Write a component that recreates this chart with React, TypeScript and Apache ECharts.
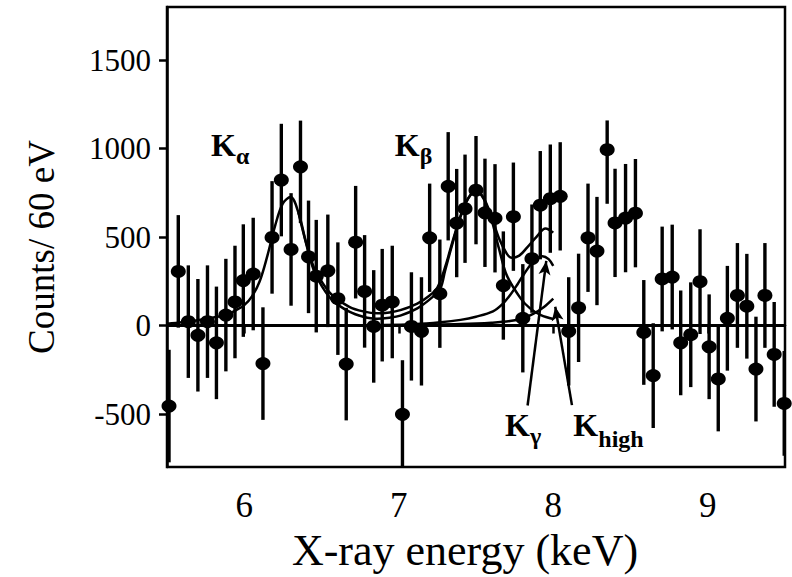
import React, { useEffect, useRef } from "react";
import * as echarts from "echarts";

// Measured spectrum: bin centre energies (keV) and background-subtracted counts per 60 eV bin
const energy = [
  5.513, 5.573, 5.638, 5.7, 5.762, 5.82, 5.881, 5.94, 5.994, 6.058,
  6.121, 6.18, 6.24, 6.303, 6.364, 6.416, 6.466, 6.541, 6.606, 6.66,
  6.721, 6.779, 6.838, 6.893, 6.958, 7.024, 7.082, 7.147, 7.2, 7.266,
  7.32, 7.375, 7.429, 7.5, 7.558, 7.623, 7.677, 7.742, 7.803, 7.862,
  7.916, 7.981, 8.045, 8.1, 8.164, 8.225, 8.283, 8.349, 8.4, 8.468,
  8.532, 8.586, 8.647, 8.705, 8.77, 8.825, 8.89, 8.95, 9.009, 9.068,
  9.127, 9.192, 9.253, 9.312, 9.37, 9.43, 9.495,
];
const counts = [
  -455, 306, 22, -55, 22, -98, 59, 133, 254, 291,
  -215, 498, 822, 430, 897, 388, 279, 309, 152, -218,
  471, 193, -5, 115, 133, -502, -5, -33, 496, 180,
  787, 579, 660, 765, 637, 606, 226, 615, 41, 378,
  680, 717, 730, -33, 100, 496, 421, 994, 580, 607,
  635, -39, -283, 263, 274, -98, -52, 248, -120, -302,
  41, 170, 109, -246, 170, -163, -440,
];
// Upper and lower error bar lengths
const errUp = [
  318, 318, 318, 318, 318, 318, 318, 318, 318, 318,
  318, 318, 318, 318, 261, 318, 318, 318, 318, 318,
  318, 318, 318, 318, 318, 306, 306, 306, 306, 306,
  306, 306, 306, 306, 306, 306, 306, 306, 306, 306,
  306, 306, 306, 306, 306, 306, 306, 165, 306, 306,
  306, 296, 296, 296, 296, 296, 296, 296, 296, 296,
  296, 296, 296, 296, 296, 296, 296,
];
const errDown = [
  318, 318, 318, 318, 318, 318, 318, 318, 318, 318,
  318, 318, 318, 318, 318, 318, 318, 318, 318, 318,
  318, 318, 318, 318, 318, 306, 306, 306, 306, 306,
  306, 306, 306, 306, 306, 306, 306, 306, 306, 306,
  306, 306, 306, 306, 306, 306, 306, 306, 306, 306,
  306, 296, 296, 296, 296, 296, 296, 296, 296, 296,
  296, 296, 296, 296, 296, 296, 296,
];

// Fit curves: total fit, Kα+Kβ lines, Kγ line and high-energy line
const fitTotal = [
  [5.5, 10], [5.6, 18], [5.7, 30], [5.8, 45], [5.88, 60], [5.95, 88], [6.0, 115],
  [6.05, 165], [6.1, 250], [6.15, 395], [6.2, 565], [6.25, 690], [6.3, 726],
  [6.35, 640], [6.4, 470], [6.45, 330], [6.5, 250], [6.57, 171], [6.68, 106],
  [6.77, 80], [6.86, 69], [6.94, 74], [7.01, 87], [7.12, 124], [7.2, 170],
  [7.25, 215], [7.3, 330], [7.35, 480], [7.4, 620], [7.45, 720], [7.5, 763],
  [7.55, 720], [7.6, 615], [7.65, 490], [7.7, 405], [7.73, 383], [7.78, 395],
  [7.83, 440], [7.89, 500], [7.95, 548], [8.0, 525],
];
const fitAlphaBeta = [
  [6.35, 640], [6.4, 465], [6.45, 312], [6.5, 225], [6.57, 143], [6.68, 78],
  [6.77, 50], [6.86, 38], [6.94, 44], [7.01, 56], [7.12, 97], [7.22, 162],
  [7.27, 210], [7.3, 310], [7.35, 470], [7.4, 615], [7.45, 718], [7.5, 762],
  [7.55, 715], [7.6, 600], [7.65, 430], [7.7, 282], [7.79, 152], [7.85, 97],
  [7.92, 59], [8.0, 37],
];
const fitGamma = [
  [6.9, 3], [7.1, 7], [7.27, 18], [7.4, 32], [7.5, 50], [7.61, 80], [7.67, 120],
  [7.72, 171], [7.77, 235], [7.81, 290], [7.87, 360], [7.93, 392], [7.97, 375],
  [8.0, 337],
];
const fitHigh = [
  [7.0, 2], [7.2, 4], [7.4, 8], [7.6, 16], [7.72, 25], [7.8, 40], [7.87, 66],
  [7.94, 105], [8.0, 152],
];

const xTicks = [6, 7, 8, 9];
const yTicks = [-500, 0, 500, 1000, 1500];

// Line labels (main letter + subscript) anchored in data space
const lineLabels = [
  { main: "K", sub: "α", at: [5.784, 959] },
  { main: "K", sub: "β", at: [6.974, 959] },
  { main: "K", sub: "γ", at: [7.688, -625] },
  { main: "K", sub: "high", at: [8.13, -625] },
];
// Arrows from the Kγ / Khigh labels to their curves
const arrows = [
  { from: [7.834, -452], to: [7.955, 365] },
  { from: [8.121, -450], to: [8.013, 106] },
];

const SERIF = '"Liberation Serif", "Times New Roman", serif';

export default function App() {
  const ref = useRef<HTMLDivElement>(null);

  useEffect(() => {
    if (!ref.current) return;
    const chart = echarts.init(ref.current, undefined, { renderer: "svg" });

    const points = energy.map((e, i) => [e, counts[i]]);
    const bars = energy.map((e, i) => [e, counts[i], errDown[i], errUp[i]]);
    const curveStyle = { color: "#000", width: 2.5 };

    const option: any = {
      animation: false,
      backgroundColor: "#fff",
      grid: {
        left: 167,
        right: 7,
        top: 7,
        bottom: 102,
        show: true,
        borderColor: "#000",
        borderWidth: 2.5,
        backgroundColor: "transparent",
      },
      xAxis: {
        type: "value",
        min: 5.5,
        max: 9.5,
        name: "X-ray energy (keV)",
        nameLocation: "middle",
        nameGap: 60,
        nameTextStyle: {
          fontFamily: SERIF,
          fontSize: 44,
          color: "#000",
          padding: [0, 22, 0, 0],
        },
        axisLine: { show: true, lineStyle: { color: "#000", width: 2.5 } },
        axisTick: {
          show: true,
          inside: false,
          length: 8,
          customValues: xTicks,
          lineStyle: { color: "#000", width: 2.5 },
        },
        axisLabel: {
          customValues: xTicks,
          fontFamily: SERIF,
          fontSize: 35,
          color: "#000",
          margin: 21,
        },
        splitLine: { show: false },
      },
      yAxis: {
        type: "value",
        min: -800,
        max: 1800,
        axisLine: { show: true, lineStyle: { color: "#000", width: 2.5 } },
        axisTick: {
          show: true,
          inside: false,
          length: 8,
          customValues: yTicks,
          lineStyle: { color: "#000", width: 2.5 },
        },
        axisLabel: {
          customValues: yTicks,
          formatter: (v: number) => String(v),
          fontFamily: SERIF,
          fontSize: 31,
          color: "#000",
          margin: 16,
        },
        splitLine: { show: false },
      },
      series: [
        {
          type: "line",
          data: fitTotal,
          smooth: 0.35,
          showSymbol: false,
          lineStyle: curveStyle,
          z: 3,
          markLine: {
            silent: true,
            symbol: "none",
            label: { show: false },
            lineStyle: { color: "#000", width: 2.8, type: "solid" },
            data: [{ yAxis: 0 }],
          },
        },
        {
          type: "line",
          data: fitAlphaBeta,
          smooth: 0.35,
          showSymbol: false,
          lineStyle: curveStyle,
          z: 3,
        },
        {
          type: "line",
          data: fitGamma,
          smooth: 0.35,
          showSymbol: false,
          lineStyle: curveStyle,
          z: 3,
        },
        {
          type: "line",
          data: fitHigh,
          smooth: 0.35,
          showSymbol: false,
          lineStyle: curveStyle,
          z: 3,
          markLine: {
            silent: true,
            symbol: ["none", "arrow"],
            symbolSize: [9, 14],
            label: { show: false },
            lineStyle: { color: "#000", width: 2.5, type: "solid" },
            data: arrows.map((a) => [{ coord: a.from }, { coord: a.to }]),
          },
        },
        {
          type: "custom",
          data: bars,
          clip: true,
          z: 4,
          renderItem: (params: any, api: any) => {
            const x = api.value(0);
            const y = api.value(1);
            const lo = api.coord([x, y - api.value(2)]);
            const hi = api.coord([x, y + api.value(3)]);
            return {
              type: "line",
              shape: { x1: lo[0], y1: lo[1], x2: hi[0], y2: hi[1] },
              style: { stroke: "#000", lineWidth: 3.4 },
            };
          },
        },
        {
          type: "scatter",
          data: points,
          symbol: "circle",
          symbolSize: [15, 13],
          itemStyle: { color: "#000", opacity: 1 },
          z: 5,
        },
      ],
    };

    chart.setOption(option);

    // Y axis title and the line labels, placed once the coordinate system is known
    const graphics: any[] = [
      {
        type: "text",
        x: 41,
        y: 247,
        rotation: Math.PI / 2,
        style: {
          text: "Counts/ 60 eV",
          font: `37px ${SERIF}`,
          fill: "#000",
          align: "center",
          verticalAlign: "middle",
        },
      },
    ];
    lineLabels.forEach((lab) => {
      const p = chart.convertToPixel({ gridIndex: 0 }, lab.at) as number[];
      graphics.push({
        type: "text",
        x: p[0],
        y: p[1] - 11,
        style: {
          text: lab.main,
          font: `bold 32px ${SERIF}`,
          fill: "#000",
          align: "left",
          verticalAlign: "middle",
        },
        z: 10,
      });
      graphics.push({
        type: "text",
        x: p[0] + 25,
        y: p[1] + (lab.sub === "high" ? 11 : 8) - 8,
        style: {
          text: lab.sub,
          font: `bold 24px ${SERIF}`,
          fill: "#000",
          align: "left",
          verticalAlign: "middle",
        },
        z: 10,
      });
    });
    chart.setOption({ graphic: graphics });

    return () => chart.dispose();
  }, []);

  return (
    <div
      ref={ref}
      style={{
        position: "fixed",
        left: 0,
        top: 0,
        width: 792,
        height: 577,
        background: "#fff",
      }}
    />
  );
}
